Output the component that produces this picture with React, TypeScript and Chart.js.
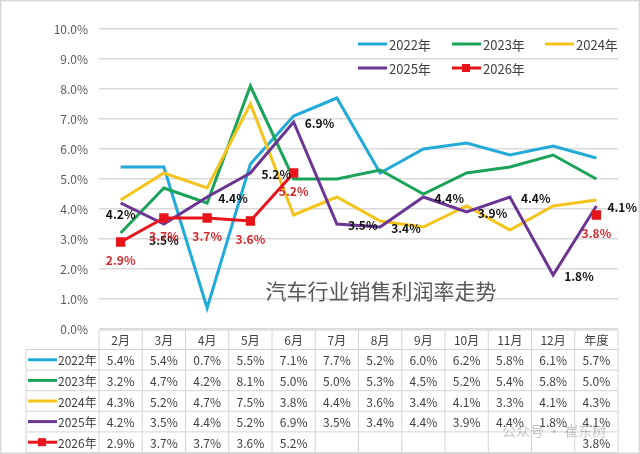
import React, { useEffect, useRef } from 'react';
import { Chart, registerables, Plugin } from 'chart.js';

Chart.register(...registerables);

// categories and series values (profit margin, %)
const categories = ['2月', '3月', '4月', '5月', '6月', '7月', '8月', '9月', '10月', '11月', '12月', '年度'];
const seriesNames = ['2022年', '2023年', '2024年', '2025年', '2026年'];
const y2022 = [5.4, 5.4, 0.7, 5.5, 7.1, 7.7, 5.2, 6.0, 6.2, 5.8, 6.1, 5.7];
const y2023 = [3.2, 4.7, 4.2, 8.1, 5.0, 5.0, 5.3, 4.5, 5.2, 5.4, 5.8, 5.0];
const y2024 = [4.3, 5.2, 4.7, 7.5, 3.8, 4.4, 3.6, 3.4, 4.1, 3.3, 4.1, 4.3];
const y2025 = [4.2, 3.5, 4.4, 5.2, 6.9, 3.5, 3.4, 4.4, 3.9, 4.4, 1.8, 4.1];
const y2026: (number | null)[] = [2.9, 3.7, 3.7, 3.6, 5.2, null, null, null, null, null, null, 3.8];
const yTicks = [0, 1, 2, 3, 4, 5, 6, 7, 8, 9, 10];
const title = '汽车行业销售利润率走势';

const colors = ['#22aad8', '#1ca35a', '#f4c41c', '#6a3593', '#e8141c'];
// where the 2025 labels sit relative to their points
const place2025 = ['below', 'below', 'right', 'right', 'right', 'right', 'right', 'right', 'right', 'right', 'right', 'right'];

const FONT = '"Noto Sans CJK SC", "Noto Sans", sans-serif';
const allSeries = [y2022, y2023, y2024, y2025, y2026];

const overlay: Plugin<'line'> = {
  id: 'overlay',
  afterDraw(chart) {
    const ctx = chart.ctx;
    const area = chart.chartArea;
    const xs = chart.scales.x;
    const colW = area.width / categories.length;

    ctx.save();

    // title inside the plot
    ctx.fillStyle = '#595959';
    ctx.font = `21px ${FONT}`;
    ctx.textAlign = 'center';
    ctx.textBaseline = 'middle';
    ctx.fillText(title, 381, 291);

    // data labels: 2025 (black) and 2026 (red)
    ctx.font = `bold 12px ${FONT}`;
    const m25 = chart.getDatasetMeta(3);
    y2025.forEach((v, i) => {
      const p = m25.data[i];
      ctx.fillStyle = '#111111';
      if (place2025[i] === 'below') {
        ctx.textAlign = 'center';
        ctx.fillText(`${v.toFixed(1)}%`, p.x, p.y + (i === 0 ? 11 : 16));
      } else {
        ctx.textAlign = 'left';
        ctx.fillText(`${v.toFixed(1)}%`, p.x + 11, p.y + 1);
      }
    });
    const m26 = chart.getDatasetMeta(4);
    y2026.forEach((v, i) => {
      if (v === null) return;
      const p = m26.data[i];
      ctx.fillStyle = '#d42a2f';
      ctx.textAlign = 'center';
      ctx.fillText(`${v.toFixed(1)}%`, p.x, p.y + 18);
    });

    // legend
    ctx.font = `13px ${FONT}`;
    ctx.textAlign = 'left';
    const legPos = [
      [358, 44], [452, 44], [545, 44], [358, 68], [452, 68],
    ];
    seriesNames.forEach((name, i) => {
      const [lx, ly] = legPos[i];
      ctx.strokeStyle = colors[i];
      ctx.lineWidth = 3;
      ctx.beginPath();
      ctx.moveTo(lx, ly);
      ctx.lineTo(lx + 29, ly);
      ctx.stroke();
      if (i === 4) {
        ctx.fillStyle = colors[i];
        ctx.fillRect(lx + 10, ly - 4, 8, 8);
      }
      ctx.fillStyle = '#404040';
      ctx.fillText(name, lx + 31, ly + 1);
    });

    // data table
    const tLeft = 26;
    const tRight = area.right;
    const hTop = area.bottom + 1;
    const hBot = hTop + 19.5;
    const rowH = 20.6;
    const tBot = hBot + rowH * seriesNames.length;
    ctx.strokeStyle = '#d4d4d4';
    ctx.lineWidth = 1;
    ctx.beginPath();
    ctx.moveTo(area.left, hTop);
    ctx.lineTo(tRight, hTop);
    for (let r = 0; r <= seriesNames.length; r++) {
      const yy = hBot + r * rowH;
      ctx.moveTo(tLeft, yy);
      ctx.lineTo(tRight, yy);
    }
    for (let c = 0; c <= categories.length; c++) {
      const xx = area.left + c * colW;
      ctx.moveTo(xx, hTop);
      ctx.lineTo(xx, tBot);
    }
    ctx.moveTo(tLeft, hBot);
    ctx.lineTo(tLeft, tBot);
    ctx.stroke();

    ctx.font = `12px ${FONT}`;
    ctx.fillStyle = '#404040';
    ctx.textAlign = 'center';
    categories.forEach((c, j) => {
      ctx.fillText(c, xs.getPixelForValue(j), (hTop + hBot) / 2 + 1);
    });
    allSeries.forEach((vals, r) => {
      const cy = hBot + rowH * (r + 0.5) + 1;
      ctx.textAlign = 'center';
      ctx.fillStyle = '#404040';
      vals.forEach((v, j) => {
        if (v === null) return;
        ctx.fillText(`${v.toFixed(1)}%`, xs.getPixelForValue(j), cy);
      });
      ctx.strokeStyle = colors[r];
      ctx.lineWidth = 3;
      ctx.beginPath();
      ctx.moveTo(28, cy - 1);
      ctx.lineTo(57, cy - 1);
      ctx.stroke();
      if (r === 4) {
        ctx.fillStyle = colors[r];
        ctx.fillRect(38, cy - 5, 8, 8);
      }
      ctx.fillStyle = '#404040';
      ctx.textAlign = 'left';
      ctx.fillText(seriesNames[r], 58, cy);
    });

    // watermark
    ctx.font = `14px ${FONT}`;
    ctx.fillStyle = 'rgba(150,150,150,0.55)';
    ctx.textAlign = 'left';
    ctx.fillText('公众号 · 崔东树', 502, 431);

    // outer frame
    ctx.strokeStyle = '#d9d9d9';
    ctx.lineWidth = 1.5;
    ctx.strokeRect(0.75, 0.75, chart.width - 1.5, chart.height - 1.5);
    ctx.restore();
  },
};

const App: React.FC = () => {
  const canvasRef = useRef<HTMLCanvasElement>(null);

  useEffect(() => {
    if (!canvasRef.current) return;
    const chart = new Chart(canvasRef.current, {
      type: 'line',
      data: {
        labels: categories,
        datasets: allSeries.map((vals, i) => ({
          label: seriesNames[i],
          data: vals,
          borderColor: colors[i],
          backgroundColor: colors[i],
          borderWidth: 3,
          tension: 0,
          spanGaps: false,
          pointStyle: 'rect' as const,
          pointRadius: i === 4 ? 4.5 : 0,
          pointHoverRadius: i === 4 ? 4.5 : 0,
          order: 5 - i,
        })),
      },
      options: {
        animation: false,
        responsive: true,
        maintainAspectRatio: false,
        layout: { padding: { left: 0, right: 22, top: 29, bottom: 125 } },
        plugins: { legend: { display: false }, tooltip: { enabled: false } },
        scales: {
          x: { display: false, offset: true },
          y: {
            min: yTicks[0],
            max: yTicks[yTicks.length - 1],
            afterFit: (s) => { s.width = 99; },
            afterBuildTicks: (s) => { s.ticks = yTicks.map((v) => ({ value: v })); },
            border: { display: false },
            grid: { color: '#d9d9d9', lineWidth: 1.5, drawTicks: false },
            ticks: {
              padding: 11,
              color: '#595959',
              font: { family: FONT, size: 12 },
              callback: (v) => `${Number(v).toFixed(1)}%`,
            },
          },
        },
      },
      plugins: [overlay],
    });
    return () => chart.destroy();
  }, []);

  return (
    <div style={{ position: 'fixed', left: 0, top: 0, width: 640, height: 454, background: '#fff' }}>
      <canvas ref={canvasRef}></canvas>
    </div>
  );
};

export default App;
